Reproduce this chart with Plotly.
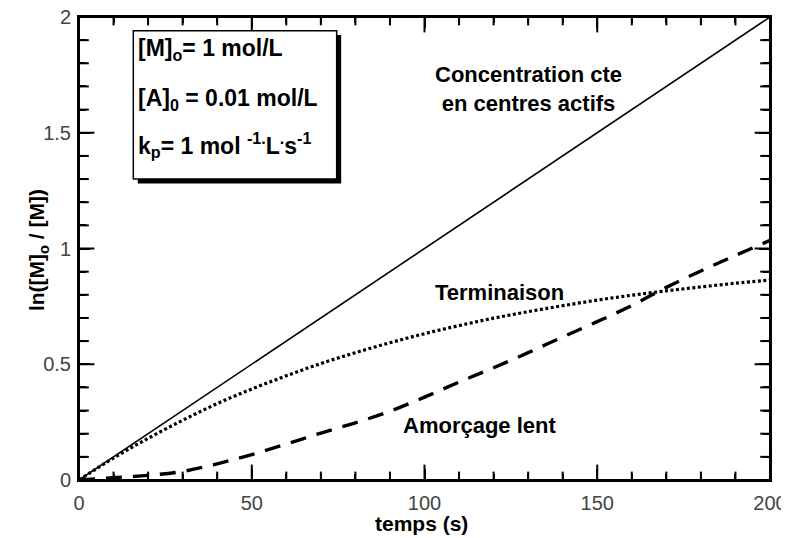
import plotly.graph_objects as go

# time grid (s)
temps = [0, 10, 20, 30, 40, 50, 60, 70, 80, 90, 100, 110, 120, 130, 140, 150, 160, 170, 180, 190, 200]
# constant concentration of active centres (straight line)
conc_cte = [0.00, 0.10, 0.20, 0.30, 0.40, 0.50, 0.60, 0.70, 0.80, 0.90, 1.00, 1.10, 1.20, 1.30, 1.40,
            1.50, 1.60, 1.70, 1.80, 1.90, 2.00]
# termination (dotted)
terminaison = [0.000, 0.095, 0.180, 0.258, 0.330, 0.393, 0.450, 0.503, 0.550, 0.593, 0.632, 0.667,
               0.699, 0.727, 0.753, 0.777, 0.798, 0.817, 0.834, 0.850, 0.864]
# slow initiation (dashed)
amorcage_lent = [0.000, 0.010, 0.020, 0.037, 0.070, 0.110, 0.155, 0.203, 0.247, 0.297, 0.358, 0.423,
                 0.485, 0.550, 0.618, 0.684, 0.754, 0.832, 0.903, 0.970, 1.035]

# tick positions (major with labels, minor without)
x_major = [0, 50, 100, 150, 200]
x_minor = [10, 20, 30, 40, 60, 70, 80, 90, 110, 120, 130, 140, 160, 170, 180, 190]
y_major = [0, 0.5, 1, 1.5, 2]
y_major_text = ["0", "0.5", "1", "1.5", "2"]
y_minor = [0.1, 0.2, 0.3, 0.4, 0.6, 0.7, 0.8, 0.9, 1.1, 1.2, 1.3, 1.4, 1.6, 1.7, 1.8, 1.9]
X_MIN, X_MAX = 0, 200
Y_MIN, Y_MAX = 0, 2

FONT = "Liberation Sans, Arial, sans-serif"

fig = go.Figure()
fig.add_trace(go.Scatter(x=temps, y=conc_cte, mode="lines",
                         line=dict(color="black", width=1.6), showlegend=False))
fig.add_trace(go.Scatter(x=temps, y=terminaison, mode="lines", line_shape="spline",
                         line=dict(color="black", width=3.2, dash="3px,2.5px"), showlegend=False))
fig.add_trace(go.Scatter(x=temps, y=amorcage_lent, mode="lines", line_shape="spline",
                         line=dict(color="black", width=3.4, dash="16px,11px"), showlegend=False))


def tick_trace(xs, ys, symbol, size):
    # half of each line marker is clipped by the plot area, leaving an inside tick
    return go.Scatter(x=xs, y=ys, mode="markers", cliponaxis=True, hoverinfo="skip", showlegend=False,
                      marker=dict(symbol=symbol, size=size, color="black",
                                  line=dict(width=2, color="black")))


for edge in (Y_MIN, Y_MAX):
    fig.add_trace(tick_trace(x_major, [edge] * len(x_major), "line-ns", 22))
    fig.add_trace(tick_trace(x_minor, [edge] * len(x_minor), "line-ns", 12))
for edge in (X_MIN, X_MAX):
    fig.add_trace(tick_trace([edge] * len(y_major), y_major, "line-ew", 22))
    fig.add_trace(tick_trace([edge] * len(y_minor), y_minor, "line-ew", 14))

axis_common = dict(
    showgrid=False, zeroline=False, showline=True, linecolor="black", linewidth=2,
    mirror="allticks", ticks="inside", ticklen=11, tickwidth=2, tickcolor="black",
    tickfont=dict(family=FONT, size=20, color="#444444"), automargin=False,
    ticklabeloverflow="allow",
)

fig.update_xaxes(range=[X_MIN, X_MAX], tickmode="array", tickvals=x_major, ticktext=[str(v) for v in x_major],
                 ticklabelstandoff=4,
                 minor=dict(tickmode="array", tickvals=x_minor, ticks="inside", ticklen=6, tickwidth=2,
                            tickcolor="black", showgrid=False),
                 **axis_common)
fig.update_yaxes(range=[Y_MIN, Y_MAX], tickmode="array", tickvals=y_major, ticktext=y_major_text,
                 ticklabelstandoff=2,
                 minor=dict(tickmode="array", tickvals=y_minor, ticks="inside", ticklen=7, tickwidth=2,
                            tickcolor="black", showgrid=False),
                 **axis_common)

# plot frame
fig.add_shape(type="rect", xref="paper", yref="paper", x0=0, x1=1, y0=0, y1=1,
              line=dict(color="black", width=2), fillcolor="rgba(0,0,0,0)", layer="above")

# info box with shadow
bx0, bx1, by0, by1 = 0.0786, 0.3729, 0.6501, 0.9704
dx, dy = 0.0065, 0.0095
fig.add_shape(type="rect", xref="paper", yref="paper", x0=bx0 + dx, x1=bx1 + dx, y0=by0 - dy, y1=by1 - dy,
              fillcolor="black", opacity=1, line=dict(color="black", width=0), layer="above")
fig.add_shape(type="rect", xref="paper", yref="paper", x0=bx0, x1=bx1, y0=by0, y1=by1,
              fillcolor="white", opacity=1, line=dict(color="black", width=1.5), layer="above")

box_lines = [
    ("[M]<sub>o</sub>= 1 mol/L", 0.930),
    ("[A]<sub>0</sub> = 0.01 mol/L", 0.822),
    ("k<sub>p</sub>= 1 mol <sup>-1.</sup>L<sup>.</sup>s<sup>-1</sup>", 0.724),
]
for txt, yp in box_lines:
    fig.add_annotation(text="<b>" + txt + "</b>", xref="paper", yref="paper", x=0.082, y=yp,
                       xanchor="left", yanchor="middle", showarrow=False,
                       font=dict(family=FONT, size=23, color="black"))

labels = [
    ("Concentration cte<br>en centres actifs", 130, 1.69),
    ("Terminaison", 121.8, 0.81),
    ("Amorçage lent", 116, 0.235),
]
for txt, xv, yv in labels:
    fig.add_annotation(text="<b>" + txt + "</b>", x=xv, y=yv, xref="x", yref="y", showarrow=False,
                       xanchor="center", yanchor="middle",
                       font=dict(family=FONT, size=22, color="black"))

# axis titles
fig.add_annotation(text="<b>temps (s)</b>", xref="paper", yref="paper", x=0.496, y=-0.093,
                   xanchor="center", yanchor="middle", showarrow=False,
                   font=dict(family=FONT, size=21, color="black"))
fig.add_annotation(text="<b>ln([M]<sub>o</sub> / [M])</b>", xref="paper", yref="paper", x=-0.059, y=0.497,
                   xanchor="center", yanchor="middle", showarrow=False, textangle=-90,
                   font=dict(family=FONT, size=21, color="black"))

# the page body has an 8 px default margin: size the figure so the plot area lands where the reference has it
fig.update_layout(
    width=773, height=530,
    margin=dict(l=71, r=11, t=9, b=58),
    plot_bgcolor="white", paper_bgcolor="white",
    showlegend=False,
)

fig.write_html("out.html")
